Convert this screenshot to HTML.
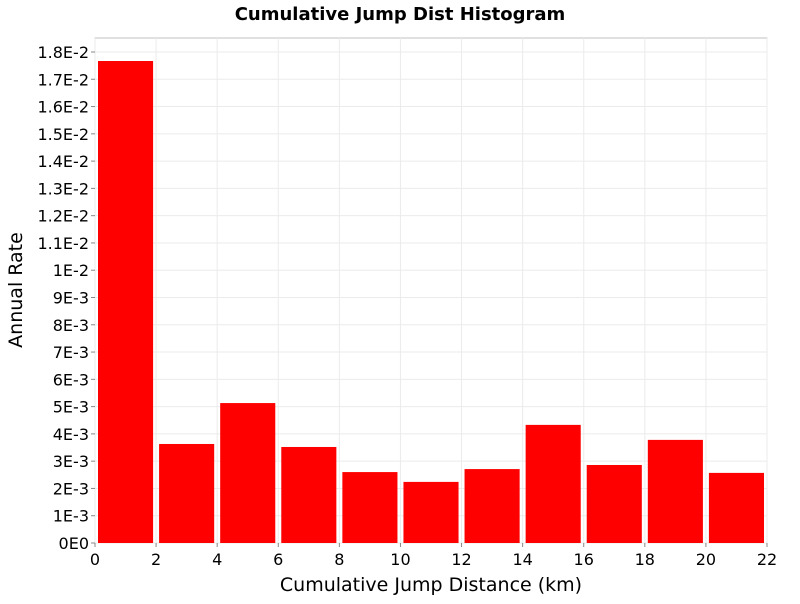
<!DOCTYPE html>
<html><head><meta charset="utf-8"><style>
body{margin:0;background:#fff;font-family:"DejaVu Sans","Liberation Sans",sans-serif}
</style></head><body>
<svg id="c" width="800" height="600" xmlns="http://www.w3.org/2000/svg"></svg>
<script>
const binStarts=[0,2,4,6,8,10,12,14,16,18,20];
const binWidth=2;
const rates=[0.01767,0.00363,0.00513,0.00352,0.0026,0.00224,0.00271,0.00433,0.00286,0.00378,0.00257];
const yTicks=[0,0.001,0.002,0.003,0.004,0.005,0.006,0.007,0.008,0.009,0.01,0.011,0.012,0.013,0.014,0.015,0.016,0.017,0.018];
const yTickLabels=["0E0","1E-3","2E-3","3E-3","4E-3","5E-3","6E-3","7E-3","8E-3","9E-3","1E-2","1.1E-2","1.2E-2","1.3E-2","1.4E-2","1.5E-2","1.6E-2","1.7E-2","1.8E-2"];
const xTicks=[0,2,4,6,8,10,12,14,16,18,20,22];
const L=95,R=767,T=38,B=543;
const xs=v=>L+(v/22)*(R-L);
const ys=v=>B-(v/0.018)*(B-52);
const svg=document.getElementById('c');const NS="http://www.w3.org/2000/svg";
function mk(t,a,p){const e=document.createElementNS(NS,t);for(const k in a)e.setAttribute(k,a[k]);(p||svg).appendChild(e);return e;}
const bg=mk('rect',{x:L,y:T,width:R-L,height:B-T,fill:'#fff',stroke:'#c0c0c0'});


const grid=mk('g',{});


yTicks.forEach((v,i)=>{const y=ys(v);
mk('line',{x1:L,x2:R,y1:y,y2:y,stroke:'#ebebeb'},grid);
const tk=mk('line',{x1:L-4,x2:L,y1:y,y2:y,stroke:'#888'});
const t=mk('text',{x:L-6,y:y+6,'text-anchor':'end','font-size':16,fill:'#000'});t.textContent=yTickLabels[i];

});
xTicks.forEach(v=>{const x=xs(v);
mk('line',{x1:x,x2:x,y1:T,y2:B,stroke:'#ebebeb'},grid);
mk('line',{x1:x,x2:x,y1:B,y2:B+4,stroke:'#888'});
const t=mk('text',{x:x,y:B+22,'text-anchor':'middle','font-size':16,fill:'#000'});t.textContent=v;

});
binStarts.forEach((s,i)=>{const x0=Math.max(L,xs(s)+3),x1=xs(s+binWidth)-3;
const r=mk('rect',{x:x0,y:ys(rates[i]),width:x1-x0,height:B-ys(rates[i]),fill:'#ff0000'});

});
const ti=mk('text',{x:400,y:20,'text-anchor':'middle','font-size':18,'font-weight':'bold'});ti.textContent='Cumulative Jump Dist Histogram';


const xt=mk('text',{x:431,y:591,'text-anchor':'middle','font-size':19});xt.textContent='Cumulative Jump Distance (km)';


const yt=mk('text',{x:22,y:290,'text-anchor':'middle','font-size':19,transform:'rotate(-90 22 290)'});yt.textContent='Annual Rate';


</script>
</body></html>
